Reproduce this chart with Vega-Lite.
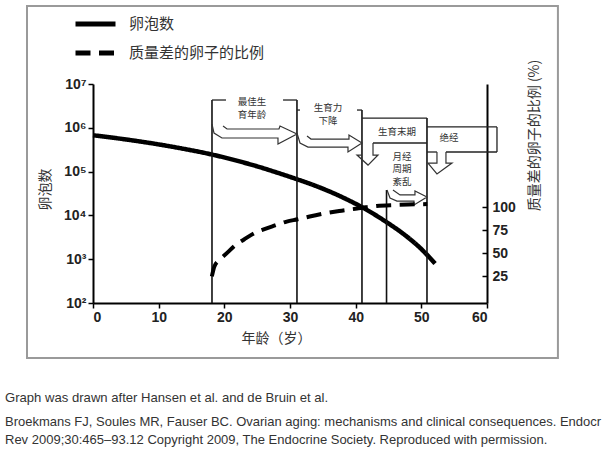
{
  "$schema": "https://vega.github.io/schema/vega-lite/v6.json",
  "width": 394,
  "height": 219,
  "autosize": {"type": "none"},
  "padding": {"left": 93, "top": 84, "right": 125, "bottom": 151},
  "background": "white",
  "title": {
    "text": "Graph was drawn after Hansen et al. and de Bruin et al.",
    "subtitle": ["Broekmans FJ, Soules MR, Fauser BC. Ovarian aging: mechanisms and clinical consequences. Endocr", "Rev 2009;30:465–93.12 Copyright 2009, The Endocrine Society. Reproduced with permission."],
    "orient": "bottom",
    "anchor": "start",
    "frame": "group",
    "dx": -88,
    "offset": 33,
    "font": "Liberation Sans",
    "fontSize": 13.1,
    "fontWeight": "normal",
    "color": "#333333",
    "subtitleFont": "Liberation Sans",
    "subtitleFontSize": 13,
    "subtitleColor": "#333333",
    "subtitlePadding": 11,
    "subtitleLineHeight": 18
  },
  "datasets": {
    "follicles": [
      {"age": 0, "count": 676000, "series": "卵泡数"},
      {"age": 4.5, "count": 555000, "series": "卵泡数"},
      {"age": 9, "count": 442000, "series": "卵泡数"},
      {"age": 13.5, "count": 337800, "series": "卵泡数"},
      {"age": 18, "count": 247500, "series": "卵泡数"},
      {"age": 22, "count": 176000, "series": "卵泡数"},
      {"age": 25, "count": 131700, "series": "卵泡数"},
      {"age": 28, "count": 95200, "series": "卵泡数"},
      {"age": 31.2, "count": 65860, "series": "卵泡数"},
      {"age": 33.5, "count": 49770, "series": "卵泡数"},
      {"age": 36, "count": 35240, "series": "卵泡数"},
      {"age": 38.5, "count": 23820, "series": "卵泡数"},
      {"age": 41.1, "count": 15030, "series": "卵泡数"},
      {"age": 44.9, "count": 6700, "series": "卵泡数"},
      {"age": 47.3, "count": 3750, "series": "卵泡数"},
      {"age": 49.7, "count": 1880, "series": "卵泡数"},
      {"age": 52.1, "count": 794, "series": "卵泡数"}
    ],
    "poorQuality": [
      {"age": 18.1, "pct": 25, "series": "质量差的卵子的比例"},
      {"age": 18.5, "pct": 36, "series": "质量差的卵子的比例"},
      {"age": 19.3, "pct": 43, "series": "质量差的卵子的比例"},
      {"age": 20.5, "pct": 51, "series": "质量差的卵子的比例"},
      {"age": 21.7, "pct": 59, "series": "质量差的卵子的比例"},
      {"age": 23, "pct": 65, "series": "质量差的卵子的比例"},
      {"age": 24.6, "pct": 72, "series": "质量差的卵子的比例"},
      {"age": 26, "pct": 76, "series": "质量差的卵子的比例"},
      {"age": 27.6, "pct": 80, "series": "质量差的卵子的比例"},
      {"age": 29.5, "pct": 84.5, "series": "质量差的卵子的比例"},
      {"age": 31.2, "pct": 87, "series": "质量差的卵子的比例"},
      {"age": 33, "pct": 90, "series": "质量差的卵子的比例"},
      {"age": 35.4, "pct": 93.5, "series": "质量差的卵子的比例"},
      {"age": 37.5, "pct": 96, "series": "质量差的卵子的比例"},
      {"age": 39.6, "pct": 98, "series": "质量差的卵子的比例"},
      {"age": 41.5, "pct": 100, "series": "质量差的卵子的比例"},
      {"age": 43.2, "pct": 101.5, "series": "质量差的卵子的比例"},
      {"age": 46, "pct": 102.5, "series": "质量差的卵子的比例"},
      {"age": 48, "pct": 103, "series": "质量差的卵子的比例"},
      {"age": 50.9, "pct": 103.5, "series": "质量差的卵子的比例"}
    ],
    "frame": [
      {"x": -10.05, "x2": 70.8, "y": 318.8, "y2": -63.8}
    ],
    "stageLines": [
      {"age": 18.12, "bottom": -4, "top": 216.6},
      {"age": 31.06, "bottom": -4, "top": 216.6},
      {"age": 40.96, "bottom": -4, "top": 205.7},
      {"age": 44.7, "bottom": -4, "top": 118.8},
      {"age": 50.86, "bottom": -4, "top": 197.0}
    ],
    "boxEdges": [
      {"x": 18.12, "x2": 20.25, "y": 216.6, "y2": 216.6},
      {"x": 28.94, "x2": 31.06, "y": 216.6, "y2": 216.6},
      {"x": 31.06, "x2": 31.52, "y": 205.7, "y2": 205.7},
      {"x": 40.2, "x2": 40.96, "y": 205.7, "y2": 205.7},
      {"x": 40.96, "x2": 50.86, "y": 197.0, "y2": 197.0},
      {"x": 42.64, "x2": 50.86, "y": 169.9, "y2": 169.9},
      {"x": 50.86, "x2": 61.52, "y": 187.3, "y2": 187.3},
      {"x": 61.52, "x2": 61.52, "y": 160.1, "y2": 187.3},
      {"x": 50.86, "x2": 52.38, "y": 160.1, "y2": 160.1},
      {"x": 53.75, "x2": 61.52, "y": 160.1, "y2": 160.1}
    ],
    "arrows": [
      {"id": "a1", "i": 0, "x": 18.12, "y": 190.5},
      {"id": "a1", "i": 1, "x": 18.43, "y": 180.7},
      {"id": "a1", "i": 2, "x": 19.64, "y": 175.3},
      {"id": "a1", "i": 3, "x": 28.17, "y": 175.3},
      {"id": "a1", "i": 4, "x": 28.17, "y": 168.8},
      {"id": "a1", "i": 5, "x": 31.06, "y": 179.7},
      {"id": "a1", "i": 6, "x": 28.48, "y": 188.3},
      {"id": "a1", "i": 7, "x": 28.32, "y": 185.1},
      {"id": "a1", "i": 8, "x": 20.41, "y": 185.1},
      {"id": "a1", "i": 9, "x": 19.8, "y": 188.3},
      {"id": "a2", "i": 0, "x": 31.06, "y": 180.7},
      {"id": "a2", "i": 1, "x": 31.52, "y": 169.9},
      {"id": "a2", "i": 2, "x": 32.74, "y": 165.5},
      {"id": "a2", "i": 3, "x": 38.83, "y": 165.5},
      {"id": "a2", "i": 4, "x": 38.83, "y": 160.1},
      {"id": "a2", "i": 5, "x": 40.96, "y": 169.9},
      {"id": "a2", "i": 6, "x": 38.98, "y": 178.6},
      {"id": "a2", "i": 7, "x": 38.98, "y": 174.2},
      {"id": "a2", "i": 8, "x": 33.2, "y": 174.2},
      {"id": "a2", "i": 9, "x": 32.59, "y": 177.5},
      {"id": "a3", "i": 0, "x": 42.64, "y": 169.9},
      {"id": "a3", "i": 1, "x": 42.64, "y": 156.8},
      {"id": "a3", "i": 2, "x": 43.4, "y": 156.8},
      {"id": "a3", "i": 3, "x": 41.88, "y": 145.9},
      {"id": "a3", "i": 4, "x": 40.2, "y": 156.8},
      {"id": "a3", "i": 5, "x": 40.96, "y": 156.8},
      {"id": "a4", "i": 0, "x": 52.38, "y": 160.1},
      {"id": "a4", "i": 1, "x": 52.38, "y": 148.1},
      {"id": "a4", "i": 2, "x": 51.01, "y": 148.1},
      {"id": "a4", "i": 3, "x": 52.38, "y": 136.2},
      {"id": "a4", "i": 4, "x": 54.67, "y": 148.1},
      {"id": "a4", "i": 5, "x": 53.75, "y": 148.1},
      {"id": "a4", "i": 6, "x": 53.75, "y": 160.1},
      {"id": "a5", "i": 0, "x": 44.77, "y": 118.8},
      {"id": "a5", "i": 1, "x": 45.23, "y": 110.1},
      {"id": "a5", "i": 2, "x": 46.29, "y": 106.8},
      {"id": "a5", "i": 3, "x": 48.88, "y": 106.8},
      {"id": "a5", "i": 4, "x": 48.88, "y": 102.5},
      {"id": "a5", "i": 5, "x": 50.86, "y": 111.2},
      {"id": "a5", "i": 6, "x": 49.03, "y": 117.7},
      {"id": "a5", "i": 7, "x": 49.03, "y": 113.4},
      {"id": "a5", "i": 8, "x": 46.75, "y": 113.4},
      {"id": "a5", "i": 9, "x": 45.68, "y": 118.8}
    ],
    "labels": [
      {"x": 24.21, "y": 213.9, "text": "最佳生"},
      {"x": 24.21, "y": 199.8, "text": "育年龄"},
      {"x": 35.79, "y": 207.4, "text": "生育力"},
      {"x": 35.79, "y": 193.8, "text": "下降"},
      {"x": 46.29, "y": 181.8, "text": "生育末期"},
      {"x": 54.21, "y": 175.3, "text": "绝经"},
      {"x": 47.05, "y": 154.7, "text": "月经"},
      {"x": 47.05, "y": 141.1, "text": "周期"},
      {"x": 47.05, "y": 127.5, "text": "紊乱"}
    ]
  },
  "layer": [
    {
      "layer": [
        {
          "data": {"name": "follicles"},
          "mark": {"type": "line", "color": "black", "strokeWidth": 4.5, "interpolate": "monotone", "strokeCap": "butt"},
          "encoding": {
            "x": {
              "field": "age", "type": "quantitative",
              "scale": {"domain": [0, 60], "nice": false, "zero": false},
              "title": "年龄（岁）",
              "axis": {
                "values": [0, 10, 20, 30, 40, 50, 60],
                "titleX": 183, "titleY": 35, "titleBaseline": "middle", "titleAlign": "center"
              }
            },
            "y": {
              "field": "count", "type": "quantitative",
              "scale": {"type": "log", "domain": [100, 10000000], "nice": false},
              "title": "卵泡数",
              "axis": {
                "values": [100, 1000, 10000, 100000, 1000000, 10000000],
                "labelExpr": "datum.value == 100 ? '10²' : datum.value == 1000 ? '10³' : datum.value == 10000 ? '10⁴' : datum.value == 100000 ? '10⁵' : datum.value == 1000000 ? '10⁶' : '10⁷'",
                "titleX": -48, "titleY": 105, "titleAngle": -90, "titleBaseline": "middle", "titleAlign": "center"
              }
            },
            "strokeDash": {
              "field": "series", "type": "nominal",
              "scale": {"domain": ["卵泡数", "质量差的卵子的比例"], "range": [[1, 0], [15, 8.5]]},
              "legend": {
                "title": null,
                "orient": "none",
                "legendX": -20,
                "legendY": -74.5,
                "symbolType": "stroke",
                "symbolSize": 1600,
                "symbolStrokeWidth": 5,
                "symbolStrokeColor": "black",
                "labelFont": "Noto Sans CJK SC",
                "labelFontSize": 15,
                "labelColor": "#333333",
                "labelOffset": 11,
                "padding": 0,
                "clipHeight": 29,
                "rowPadding": 0
              }
            }
          }
        }
      ]
    },
    {
      "layer": [
        {
          "data": {"name": "frame"},
          "mark": {"type": "rect", "fill": null, "stroke": "#9a9a9a", "strokeWidth": 2},
          "encoding": {
            "x": {"field": "x", "type": "quantitative", "title": "年龄（岁）"},
            "x2": {"field": "x2"},
            "y": {"field": "y", "type": "quantitative", "title": "质量差的卵子的比例 (%)"},
            "y2": {"field": "y2"}
          }
        },
        {
          "data": {"name": "stageLines"},
          "mark": {"type": "rule", "color": "#111111", "strokeWidth": 1.6},
          "encoding": {
            "x": {"field": "age", "type": "quantitative", "title": "年龄（岁）"},
            "y": {"field": "bottom", "type": "quantitative", "title": "质量差的卵子的比例 (%)"},
            "y2": {"field": "top"}
          }
        },
        {
          "data": {"name": "boxEdges"},
          "mark": {"type": "rule", "color": "#222222", "strokeWidth": 1.3},
          "encoding": {
            "x": {"field": "x", "type": "quantitative", "title": "年龄（岁）"},
            "x2": {"field": "x2"},
            "y": {"field": "y", "type": "quantitative", "title": "质量差的卵子的比例 (%)"},
            "y2": {"field": "y2"}
          }
        },
        {
          "data": {"name": "arrows"},
          "mark": {"type": "line", "color": "#333333", "strokeWidth": 1.2, "interpolate": "linear"},
          "encoding": {
            "x": {"field": "x", "type": "quantitative", "title": "年龄（岁）"},
            "y": {"field": "y", "type": "quantitative", "title": "质量差的卵子的比例 (%)"},
            "detail": {"field": "id", "type": "nominal"},
            "order": {"field": "i", "type": "quantitative"}
          }
        },
        {
          "data": {"name": "labels"},
          "mark": {"type": "text", "font": "Noto Sans CJK SC", "fontSize": 9.5, "color": "#333333", "baseline": "middle", "align": "center"},
          "encoding": {
            "x": {"field": "x", "type": "quantitative", "title": "年龄（岁）"},
            "y": {"field": "y", "type": "quantitative", "title": "质量差的卵子的比例 (%)"},
            "text": {"field": "text", "type": "nominal"}
          }
        },
        {
          "data": {"name": "poorQuality"},
          "mark": {"type": "line", "color": "black", "strokeWidth": 4, "interpolate": "monotone", "strokeCap": "butt"},
          "encoding": {
            "x": {"field": "age", "type": "quantitative", "title": "年龄（岁）"},
            "y": {
              "field": "pct", "type": "quantitative",
              "scale": {"domain": [-4, 234], "nice": false, "zero": false},
              "title": "质量差的卵子的比例 (%)",
              "axis": {
                "orient": "right",
                "values": [25, 50, 75, 100],
                "tickSize": -5,
                "labelPadding": 10,
                "titleX": 47, "titleY": 51, "titleAngle": -90, "titleBaseline": "middle", "titleAlign": "center"
              }
            },
            "strokeDash": {"field": "series", "type": "nominal"}
          }
        }
      ]
    }
  ],
  "resolve": {"scale": {"y": "independent"}},
  "config": {
    "view": {"stroke": null},
    "axis": {
      "grid": false,
      "domainColor": "black",
      "domainWidth": 2,
      "tickColor": "black",
      "tickWidth": 1.5,
      "tickSize": 5,
      "labelFont": "Liberation Sans",
      "labelFontSize": 14,
      "labelFontWeight": "bold",
      "labelColor": "#222222",
      "labelPadding": 2,
      "titleFont": "Noto Sans CJK SC",
      "titleFontSize": 14,
      "titleFontWeight": "normal",
      "titleColor": "#333333"
    }
  }
}
